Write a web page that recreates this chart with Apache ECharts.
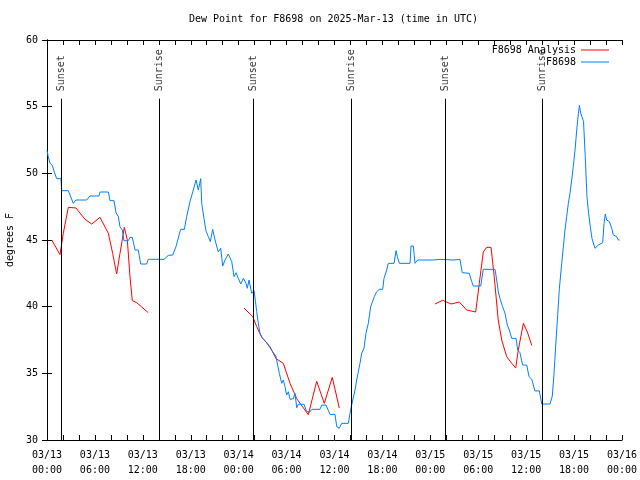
<!DOCTYPE html>
<html>
<head>
<meta charset="utf-8">
<script src="https://cdn.jsdelivr.net/npm/echarts@6/dist/echarts.min.js"></script>
<style>html,body{margin:0;padding:0;background:#fff}#c{width:640px;height:480px}</style>
</head>
<body>
<div id="c"></div>
<script>
// Hours since 2025-03-13 00:00 UTC
var xTickLabels = ['03/13\n00:00','03/13\n06:00','03/13\n12:00','03/13\n18:00','03/14\n00:00','03/14\n06:00','03/14\n12:00','03/14\n18:00','03/15\n00:00','03/15\n06:00','03/15\n12:00','03/15\n18:00','03/16\n00:00'];
var yTicks = [30, 35, 40, 45, 50, 55, 60];

var sunHours = [1.82, 14.07, 25.84, 38.07, 49.88, 62.03];
var sunLabels = ['Sunset', 'Sunrise', 'Sunset', 'Sunrise', 'Sunset', 'Sunrise'];

var anaHours = [0.6,1.63,1.8,2.04,2.67,3.63,4.76,5.6,6.64,7.68,8.22,8.72,9.14,9.68,10.06,10.39,10.68,11.23,12.68,
  18.0,
  24.67,25.76,26.26,26.89,27.92,28.68,29.59,30.43,31.27,32.72,33.77,34.72,35.72,36.6,
  42.0,
  48.58,49.55,50.59,51.63,52.55,53.68,54.13,54.63,55.06,55.6,56.0,56.5,56.94,57.56,58.19,58.69,59.0,59.65,60.15,60.7];
var anaDew = [45.0,43.9,43.8,45.5,47.45,47.4,46.55,46.2,46.7,45.5,44.0,42.45,44.0,45.95,45.0,42.25,40.45,40.3,39.55,
  null,
  39.9,39.25,38.5,37.7,37.0,36.1,35.75,34.25,33.1,31.9,34.4,32.75,34.7,32.4,
  null,
  40.2,40.48,40.2,40.35,39.75,39.6,41.75,44.1,44.45,44.45,42.25,39.0,37.5,36.25,35.75,35.4,36.7,38.75,38.1,37.1];

var obsHours = [0,0.16,0.38,0.66,0.91,1.21,1.75,1.84,2.67,3.29,3.63,4.97,5.38,6.51,6.64,7.68,7.89,8.39,8.64,8.93,9.14,9.43,9.64,10.18,10.39,10.68,11.02,11.43,11.73,12.48,12.68,14.65,15.19,15.74,16.15,16.57,16.74,17.2,17.49,17.91,18.32,18.66,18.95,19.25,19.37,19.66,19.9,20.2,20.45,20.75,21.04,21.45,21.75,22.0,22.29,22.7,23.13,23.42,23.67,23.95,24.26,24.58,24.92,25.08,25.3,25.63,25.92,26.1,26.26,26.46,26.67,27.0,27.42,27.84,28.26,28.68,28.88,29.09,29.39,29.59,29.8,30.01,30.22,30.43,30.85,31.05,31.27,31.47,32.18,32.52,32.95,33.15,34.18,34.4,34.94,35.44,36.06,36.28,36.6,36.9,37.73,37.94,38.15,38.36,38.57,38.78,38.99,39.19,39.4,39.69,39.94,40.23,40.53,40.78,40.99,41.28,41.61,42.03,42.2,42.54,42.74,43.46,43.71,43.87,44.12,45.46,45.58,45.87,46.08,46.41,48.37,49.21,50.88,51.71,52.0,52.88,53.18,53.38,54.31,54.63,56.1,56.31,56.51,56.72,57.05,57.35,57.64,57.89,58.19,58.73,58.94,59.22,59.56,60.07,60.36,60.7,61.1,61.65,61.95,62.99,63.27,63.49,63.74,63.95,64.15,64.45,64.66,64.86,65.07,65.28,65.49,65.7,65.9,66.12,66.33,66.54,66.67,66.8,66.97,67.18,67.4,67.61,67.82,68.03,68.24,68.45,68.62,69.04,69.58,69.75,69.91,70.08,70.42,70.71,70.91,71.33,71.54,71.7];
var obsDew = [51.7,51.25,50.75,50.6,50.1,49.6,49.6,48.7,48.7,47.75,48.0,48.0,48.3,48.3,48.6,48.6,47.95,47.95,47.05,46.75,46.0,45.75,44.95,44.95,45.2,45.2,44.25,44.25,43.2,43.2,43.55,43.55,43.85,43.87,44.5,45.45,45.8,45.8,46.75,47.9,48.75,49.5,48.75,49.6,47.75,46.6,45.7,45.25,44.88,45.8,45.0,44.1,44.38,43.05,43.5,43.95,43.38,42.25,42.55,42.13,41.7,42.13,41.75,41.38,42.0,41.0,41.2,40.4,39.62,38.75,38.0,37.62,37.38,37.0,36.62,36.25,35.62,35.0,34.25,34.5,34.0,33.38,33.62,33.05,33.1,33.5,32.42,32.68,32.68,32.12,32.12,32.3,32.3,32.62,32.62,31.92,31.92,31.0,30.88,31.25,31.25,32.0,32.62,32.75,33.75,34.5,34.5,35.75,36.5,36.88,38.0,38.75,40.0,40.0,40.75,41.12,41.3,41.3,42.12,42.75,43.25,43.25,44.2,43.75,43.25,43.25,44.55,44.55,43.25,43.5,43.5,43.55,43.5,43.55,42.55,42.5,41.88,41.55,41.55,42.8,42.8,42.0,41.12,40.62,40.0,39.5,38.62,38.25,37.62,37.62,36.75,36.55,35.62,35.62,34.75,34.55,33.68,33.68,32.7,32.7,33.3,35.0,37.5,39.4,41.3,43.25,44.5,45.75,46.75,47.75,48.5,49.5,50.5,51.75,53.25,54.5,55.1,54.6,54.25,53.9,51.25,48.25,47.0,46.0,45.12,44.7,44.38,44.62,44.8,46.25,46.95,46.5,46.38,45.88,45.38,45.25,45.0,45.0];

var FONT = 'DejaVu Sans Mono';
var chart = echarts.init(document.getElementById('c'), null, {renderer: 'canvas'});

var anaData = anaHours.map(function (h, i) { return [h, anaDew[i] === null ? '-' : anaDew[i]]; });
var obsData = obsHours.map(function (h, i) { return [h, obsDew[i]]; });
var sunLineData = sunHours.map(function (h) { return [{coord: [h, 55.6]}, {coord: [h, 30]}]; });
var sunLabelData = sunHours.map(function (h, i) { return {value: [h, 56.15], name: sunLabels[i]}; });

var tickStyle = {show: true, inside: true, length: 5, lineStyle: {color: '#000', width: 1}};
var lineStyleBlack = {show: true, lineStyle: {color: '#000', width: 1}};
var legendText = {fontFamily: FONT, fontSize: 10, color: '#000'};

chart.setOption({
  animation: false,
  backgroundColor: '#fff',
  title: {
    text: 'Dew Point for F8698 on 2025-Mar-13 (time in UTC)',
    left: 189, top: 14, padding: 0,
    textStyle: {fontFamily: FONT, fontSize: 10, fontWeight: 'normal', color: '#000'}
  },
  legend: [
    {data: [{name: 'F8698 Analysis', icon: 'rect'}], right: 31, top: 45, padding: 0, align: 'right',
     itemWidth: 28, itemHeight: 1, textStyle: legendText},
    {data: [{name: 'F8698', icon: 'rect'}], right: 31, top: 57, padding: 0, align: 'right',
     itemWidth: 28, itemHeight: 1, textStyle: legendText}
  ],
  grid: {left: 47, right: 18, top: 40, bottom: 40, containLabel: false, outerBoundsMode: 'none'},
  xAxis: [
    {type: 'value', min: 0, max: 72, interval: 2, position: 'bottom',
     axisLine: lineStyleBlack, axisTick: tickStyle, splitLine: {show: false},
     axisLabel: {show: true, margin: 8, lineHeight: 15, fontFamily: FONT, fontSize: 10, color: '#000',
       showMinLabel: true, showMaxLabel: true, hideOverlap: false,
       formatter: function (v) { return (v % 6 === 0) ? xTickLabels[v / 6] : ''; }}},
    {type: 'value', min: 0, max: 72, interval: 2, position: 'top',
     axisLine: lineStyleBlack, axisTick: tickStyle, splitLine: {show: false}, axisLabel: {show: false}}
  ],
  yAxis: [
    {type: 'value', min: yTicks[0], max: yTicks[yTicks.length - 1], interval: 5, position: 'left',
     name: 'degrees F', nameLocation: 'middle', nameGap: 31, nameRotate: 90,
     nameTextStyle: {fontFamily: FONT, fontSize: 10, color: '#000'},
     axisLine: lineStyleBlack, axisTick: tickStyle, splitLine: {show: false},
     axisLabel: {margin: 9, fontFamily: FONT, fontSize: 10, color: '#000'}},
    {type: 'value', min: yTicks[0], max: yTicks[yTicks.length - 1], interval: 5, position: 'right',
     axisLine: lineStyleBlack, axisTick: tickStyle, splitLine: {show: false}, axisLabel: {show: false}}
  ],
  series: [
    {name: 'sun', type: 'scatter', symbolSize: 0, data: sunLabelData, silent: true, z: 5,
     label: {show: true, position: 'inside', rotate: 90, align: 'left', verticalAlign: 'middle',
       formatter: function (p) { return p.name; }, fontFamily: FONT, fontSize: 10, color: '#000'},
     markLine: {silent: true, symbol: ['none', 'none'], label: {show: false},
       lineStyle: {color: '#000', width: 1, type: 'solid'}, data: sunLineData}},
    {name: 'F8698 Analysis', type: 'line', data: anaData, showSymbol: false, symbol: 'none',
     connectNulls: false, lineStyle: {color: '#ff0000', width: 1}, itemStyle: {color: '#ff0000'}, z: 3},
    {name: 'F8698', type: 'line', data: obsData, showSymbol: false, symbol: 'none',
     lineStyle: {color: '#0080ff', width: 1}, itemStyle: {color: '#0080ff'}, z: 4}
  ]
});
</script>
</body>
</html>
